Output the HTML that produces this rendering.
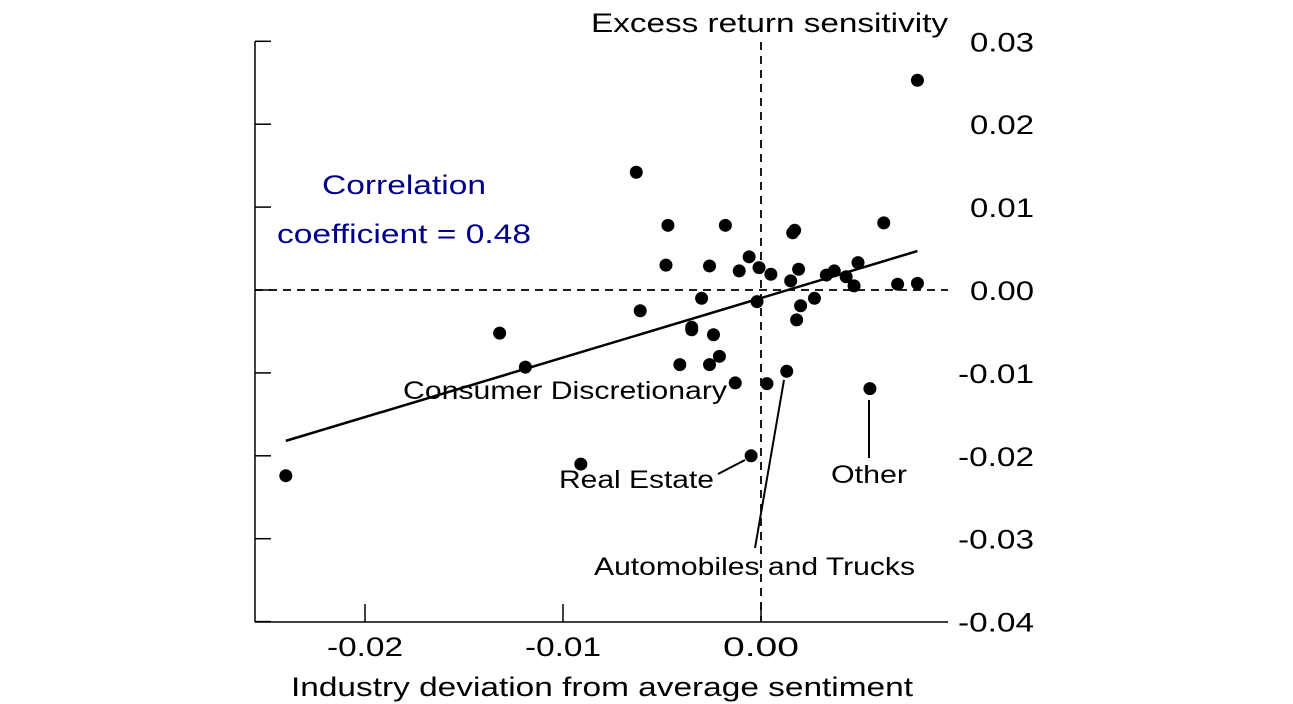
<!DOCTYPE html>
<html><head><meta charset="utf-8"><style>
html,body{margin:0;padding:0;background:#fff;}
svg{display:block;font-family:"Liberation Sans",sans-serif;}
</style></head><body>
<svg id="chart" width="1293" height="704" viewBox="0 0 1293 704"></svg>
<script>
const xVals=[-0.0240,-0.0132,-0.0119,-0.0091,-0.0063,-0.0061,-0.0047,-0.0048,-0.0035,-0.0035,-0.0041,-0.0030,-0.0026,-0.0026,-0.0024,-0.0021,-0.0018,-0.0013,-0.0011,-0.0006,-0.0005,-0.0002,-0.0001,0.0003,0.0005,0.0013,0.0015,0.0016,0.0017,0.0018,0.0019,0.0020,0.0027,0.0033,0.0037,0.0043,0.0047,0.0049,0.0055,0.0062,0.0069,0.0079,0.0079];
const yVals=[-0.0224,-0.0052,-0.0093,-0.0210,0.0142,-0.0025,0.0078,0.0030,-0.0048,-0.0045,-0.0090,-0.0010,0.0029,-0.0090,-0.0054,-0.0080,0.0078,-0.0112,0.0023,0.0040,-0.0200,-0.0014,0.0027,-0.0113,0.0019,-0.0098,0.0011,0.0069,0.0072,-0.0036,0.0025,-0.0019,-0.0010,0.0018,0.0023,0.0016,0.0005,0.0033,-0.0119,0.0081,0.0007,0.0253,0.0008];
const xTicks=[-0.02,-0.01,0.00];
const xTickLabels=["-0.02","-0.01","0.00"];
const yTicks=[0.03,0.02,0.01,0.00,-0.01,-0.02,-0.03,-0.04];
const yTickLabels=["0.03","0.02","0.01","0.00","-0.01","-0.02","-0.03","-0.04"];
const fitX=[-0.0240,0.0079];
const fitY=[-0.0182,0.0047];

const X=v=>761+v*19800;
const Y=v=>290-v*8290;
const svg=document.getElementById('chart');
const NS='http://www.w3.org/2000/svg';
function mk(tag,attrs,text){const e=document.createElementNS(NS,tag);for(const k in attrs)e.setAttribute(k,attrs[k]);if(text!==undefined)e.textContent=text;svg.appendChild(e);return e;}
function txt(s,x0,x1,y,size,fill){return mk('text',{x:x0,y:y,'font-size':size,textLength:x1-x0,lengthAdjust:'spacingAndGlyphs',fill:fill||'#000'},s);}

let e;
e=mk('line',{x1:255,y1:Y(0.03),x2:255,y2:622,stroke:'#000','stroke-width':1.5});


e=mk('line',{x1:255,y1:622,x2:948,y2:622,stroke:'#000','stroke-width':1.5});


yTicks.forEach((t,i)=>{
  const l=mk('line',{x1:255,y1:Y(t),x2:271,y2:Y(t),stroke:'#000','stroke-width':1.5});
  
  
  const s=yTickLabels[i];
  const w=s.startsWith('-')?76:64;
  const tx=txt(s,1034-w,1034,Y(t)+10,27);
  
  
});
xTicks.forEach((t,i)=>{
  const l=mk('line',{x1:X(t),y1:622,x2:X(t),y2:604,stroke:'#000','stroke-width':1.5});
  
  
  const s=xTickLabels[i];
  const w=s.startsWith('-')?76:76;
  const tx=txt(s,X(t)-w/2+(s.startsWith('-')?0:0),X(t)+w/2,656,27);
  
  
});
e=mk('line',{x1:X(0),y1:42,x2:X(0),y2:622,stroke:'#000','stroke-width':1.8,'stroke-dasharray':'8,6'});


e=mk('line',{x1:255,y1:Y(0),x2:948,y2:Y(0),stroke:'#000','stroke-width':1.8,'stroke-dasharray':'8,6'});


e=mk('line',{x1:X(fitX[0]),y1:Y(fitY[0]),x2:X(fitX[1]),y2:Y(fitY[1]),stroke:'#000','stroke-width':2.5});


xVals.forEach((v,i)=>{
  const c=mk('circle',{cx:X(v),cy:Y(yVals[i]),r:6.5,fill:'#000'});
  
  
});
const leaders=[[718,474,745,460],[755,548,784,380],[869,400,869,458]];
leaders.forEach(a=>{
  const l=mk('line',{x1:a[0],y1:a[1],x2:a[2],y2:a[3],stroke:'#000','stroke-width':2});
  
  
});
const labels=[["Consumer Discretionary",403,727,399],["Real Estate",559,714,488],["Automobiles and Trucks",594,915,575],["Other",831,907,483]];
labels.forEach(a=>{
  const t=txt(a[0],a[1],a[2],a[3],25);
  
  
});
e=txt('Excess return sensitivity',591,948,32,27);


e=txt('Industry deviation from average sentiment',291,913,696,27);


e=txt('Correlation',322,486,194,27,'#00008b');


e=txt('coefficient = 0.48',277,531,243,27,'#00008b');


</script>
</body></html>
